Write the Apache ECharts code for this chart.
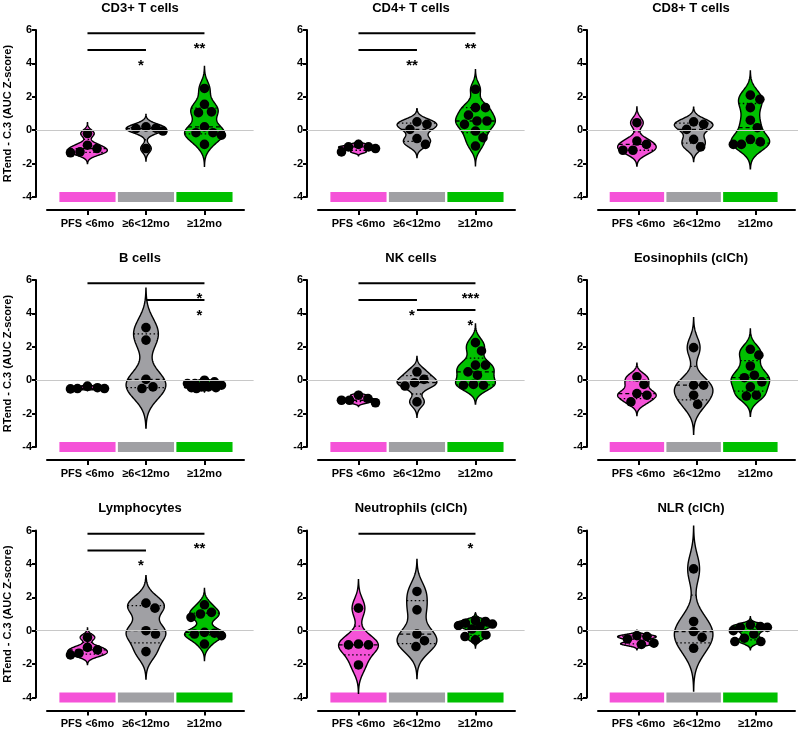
<!DOCTYPE html>
<html>
<head>
<meta charset="utf-8">
<script src="https://cdn.jsdelivr.net/npm/echarts@6/dist/echarts.min.js"></script>
<style>
  html, body { margin: 0; padding: 0; background: #fff; }
  #chart { width: 798px; height: 731px; }
</style>
</head>
<body>
<div id="chart"></div>
<script>
(function () {
  // groups and colours
  var groups = ['PFS <6mo', '≥6<12mo', '≥12mo'];
  var groupColors = ['#f552d8', '#a0a0a4', '#00c000'];
  var titles = ['CD3+ T cells', 'CD4+ T cells', 'CD8+ T cells', 'B cells', 'NK cells',
    'Eosinophils (clCh)', 'Lymphocytes', 'Neutrophils (clCh)', 'NLR (clCh)'];
  var yTicks = [-4, -2, 0, 2, 4, 6];
  var yName = 'RTend - C.3 (AUC Z-score)';

  // values per panel: [PFS <6mo, >=6<12mo, >=12mo]
  var cd3 = [[-0.2, -0.9, -1.1, -1.3, -1.35], [0.2, -0.05, 0.12, 0.1, -1.1],
    [2.5, 1.55, 1.1, 1.05, 0.2, -0.15, -0.15, -0.3, -0.85]];
  var cd4 = [[-0.85, -1.0, -1.0, -1.1, -1.3], [0.5, 0.35, 0.05, -0.5, -0.85],
    [2.45, 1.35, 1.35, 0.9, 0.55, 0.55, 0.35, -0.05, -0.45, -0.95]];
  var cd8 = [[0.45, -0.65, -0.85, -1.2, -1.2], [0.5, 0.35, 0.05, -0.55, -1.0],
    [2.1, 1.85, 1.35, 0.6, 0.15, -0.55, -0.7, -0.85, -0.85]];
  var bCells = [[-0.35, -0.45, -0.5, -0.5, -0.52], [3.15, 2.4, 0.05, -0.4, -0.5],
    [0.0, -0.1, -0.2, -0.2, -0.3, -0.4, -0.4, -0.45, -0.45, -0.5]];
  var nkCells = [[-0.9, -1.1, -1.2, -1.2, -1.35], [0.5, 0.05, -0.15, -0.35, -1.3],
    [2.25, 1.75, 0.9, 0.9, 0.5, 0.3, -0.25, -0.3, -0.3]];
  var eosinophils = [[0.2, -0.25, -0.8, -0.9, -1.3], [1.95, -0.3, -0.3, -0.9, -1.45],
    [1.85, 1.5, 0.85, 0.3, 0.15, -0.1, -0.4, -0.9, -0.95]];
  var lymphocytes = [[-0.4, -1.0, -1.15, -1.35, -1.45], [1.65, 1.35, 0.0, -0.2, -1.25],
    [1.55, 1.1, 1.0, 0.8, -0.1, -0.15, -0.2, -0.3, -0.8]];
  var neutrophils = [[1.35, -0.8, -0.85, -0.85, -2.05], [2.35, 1.25, -0.2, -0.6, -0.95],
    [0.6, 0.55, 0.45, 0.4, 0.3, 0.25, 0.1, -0.25, -0.35, -0.55]];
  var nlr = [[-0.3, -0.35, -0.5, -0.75, -0.82], [3.7, 0.55, -0.05, -0.4, -1.05],
    [0.35, 0.25, 0.2, 0.2, 0.0, -0.2, -0.45, -0.65, -0.65]];

  // significance: [from group, to group, stars, tier]
  var cd3Sig = [[1, 3, '**', 0], [1, 2, '*', 1]];
  var cd4Sig = [[1, 3, '**', 0], [1, 2, '**', 1]];
  var bSig = [[1, 3, '*', 0], [2, 3, '*', 1]];
  var nkSig = [[1, 3, '***', 0], [1, 2, '*', 1], [2, 3, '*', 2]];
  var lymphSig = [[1, 3, '**', 0], [1, 2, '*', 1]];
  var neutSig = [[1, 3, '*', 0]];

  var panels = [cd3, cd4, cd8, bCells, nkCells, eosinophils, lymphocytes, neutrophils, nlr];
  var panelSigs = [cd3Sig, cd4Sig, [], bSig, nkSig, [], lymphSig, neutSig, []];

  var font = 'Liberation Sans, Arial, sans-serif';
  var sigLevels = [5.8, 4.8, 4.2];
  var colLeft = [36, 307, 587];
  var rowTop = [30, 280, 530.5];
  var titleTop = [2, 252, 502];

  function quantile(s, p) {
    var pos = (s.length + 1) * p - 1;
    if (pos <= 0) return s[0];
    if (pos >= s.length - 1) return s[s.length - 1];
    var i = Math.floor(pos);
    return s[i] + (s[i + 1] - s[i]) * (pos - i);
  }

  // kernel density outline, normalised to its own peak
  function profile(vals) {
    var n = vals.length;
    var mean = vals.reduce(function (a, b) { return a + b; }, 0) / n;
    var sd = Math.sqrt(vals.reduce(function (a, b) { return a + (b - mean) * (b - mean); }, 0) / (n - 1));
    var h = Math.max(0.6 * 1.06 * sd * Math.pow(n, -0.2), 0.04);
    function raw(y) {
      var d = 0;
      vals.forEach(function (v) { var z = (y - v) / h; d += Math.exp(-0.5 * z * z); });
      return d;
    }
    var lo = vals[0] - 3 * h, hi = vals[n - 1] + 3 * h;
    var curve = [], peak = 0, steps = 120;
    for (var i = 0; i <= steps; i++) {
      var y = lo + (hi - lo) * i / steps;
      var d = raw(y);
      peak = Math.max(peak, d);
      curve.push([y, d]);
    }
    return {
      curve: curve.map(function (c) { return [c[0], c[1] / peak]; }),
      dens: function (y) { return raw(y) / peak; }
    };
  }

  // beeswarm offset in pixels, kept within +-17px (dots overlap when crowded)
  function swarmOffset(placed, py) {
    var D = 10, best = 0, bestGap = -1;
    for (var k = 0; k <= 68; k++) {
      var dx = (k % 2 ? 1 : -1) * Math.ceil(k / 2) * 0.5;
      var gap = placed.reduce(function (m, q) { return Math.min(m, Math.hypot(q[0] - dx, q[1] - py)); }, Infinity);
      if (gap >= D) return dx;
      if (gap > bestGap + 0.01) { bestGap = gap; best = dx; }
    }
    return best;
  }

  function makeViolin(p) {
    return function (params, api) {
      var gi = params.dataIndex, cx = gi + 1;
      var vals = panels[p][gi].slice().sort(function (a, b) { return a - b; });
      var prof = profile(vals);
      var halfMax = 0.34;
      var right = [], left = [];
      prof.curve.forEach(function (pt) {
        right.push(api.coord([cx + pt[1] * halfMax, pt[0]]));
        left.unshift(api.coord([cx - pt[1] * halfMax, pt[0]]));
      });
      var children = [];
      var b0 = api.coord([cx - 0.48, -3.7]), b1 = api.coord([cx + 0.48, -4.3]);
      children.push({ type: 'rect', shape: { x: b0[0], y: b0[1], width: b1[0] - b0[0], height: b1[1] - b0[1] },
        style: { fill: groupColors[gi] } });
      children.push({ type: 'polygon', shape: { points: right.concat(left) },
        style: { fill: groupColors[gi], stroke: '#000', lineWidth: 1.4 } });
      [0.25, 0.5, 0.75].forEach(function (qp) {
        var q = quantile(vals, qp);
        var w = prof.dens(q) * halfMax;
        var a = api.coord([cx - w, q]), b = api.coord([cx + w, q]);
        children.push({ type: 'line', shape: { x1: a[0], y1: a[1], x2: b[0], y2: b[1] },
          style: { stroke: '#000', lineWidth: 1.3, lineDash: qp === 0.5 ? [4, 3] : [1.5, 2.5] } });
      });
      var center = api.coord([cx, 0])[0];
      var placed = [];
      vals.slice().reverse().forEach(function (v) {
        var py = api.coord([cx, v])[1];
        var dx = swarmOffset(placed, py);
        placed.push([dx, py]);
        children.push({ type: 'circle', shape: { cx: center + dx, cy: py, r: 4.8 }, style: { fill: '#000' } });
      });
      return { type: 'group', children: children };
    };
  }

  function makeSig(p) {
    return function (params, api) {
      var s = panelSigs[p][params.dataIndex];
      var lvl = sigLevels[s[3]];
      var a = api.coord([s[0], lvl]), b = api.coord([s[1], lvl]);
      return { type: 'group', children: [
        { type: 'line', shape: { x1: a[0], y1: a[1], x2: b[0], y2: b[1] }, style: { stroke: '#000', lineWidth: 2 } },
        { type: 'text', x: b[0] - 5, y: b[1] + 8,
          style: { text: s[2], fill: '#000', font: 'bold 15px ' + font, align: 'center', verticalAlign: 'top' } }
      ] };
    };
  }

  var option = { backgroundColor: '#fff', animation: false, title: [], grid: [], xAxis: [], yAxis: [], series: [] };

  panels.forEach(function (vals, p) {
    var r = Math.floor(p / 3), c = p % 3;
    var gMain = 2 * p, gAxis = 2 * p + 1;
    option.title.push({ text: titles[p], left: colLeft[c] + 104, top: titleTop[r], textAlign: 'center', padding: 0,
      textStyle: { fontSize: 13, fontWeight: 'bold', color: '#000', fontFamily: font } });
    option.grid.push({ left: colLeft[c], top: rowTop[r], width: 217.6, height: 167 });
    option.grid.push({ left: colLeft[c] + 11, top: rowTop[r] + 179, width: 197, height: 1 });
    option.xAxis.push({ gridIndex: gMain, type: 'value', min: 0.12, max: 3.84, show: false });
    option.xAxis.push({ gridIndex: gAxis, type: 'value', min: 0.308, max: 3.676, position: 'bottom',
      axisLine: { show: true, onZero: false, lineStyle: { color: '#000', width: 2 } },
      axisTick: { show: true, customValues: [1, 2, 3], length: 5, lineStyle: { color: '#000', width: 2 } },
      axisLabel: { customValues: [1, 2, 3], margin: 8, color: '#000', fontWeight: 'bold', fontSize: 11, fontFamily: font,
        formatter: function (v) { return groups[Math.round(v) - 1]; } },
      splitLine: { show: false } });
    option.yAxis.push({ gridIndex: gMain, type: 'value', min: yTicks[0], max: yTicks[yTicks.length - 1], interval: 2,
      axisLine: { show: true, onZero: false, lineStyle: { color: '#000', width: 2 } },
      axisTick: { show: true, length: 4, lineStyle: { color: '#000', width: 2 } },
      axisLabel: { color: '#000', fontWeight: 'bold', fontSize: 11, margin: 4, fontFamily: font },
      splitLine: { show: false },
      name: c === 0 ? yName : '', nameLocation: 'middle', nameGap: 23,
      nameTextStyle: { color: '#000', fontWeight: 'bold', fontSize: 11, fontFamily: font } });
    option.yAxis.push({ gridIndex: gAxis, type: 'value', show: false });

    option.series.push({ type: 'scatter', xAxisIndex: gMain, yAxisIndex: gMain, data: [], silent: true, z: 1,
      markLine: { silent: true, symbol: 'none', label: { show: false }, animation: false,
        lineStyle: { color: '#c8c8c8', width: 1, type: 'solid' }, data: [{ yAxis: 0 }] } });
    option.series.push({ type: 'custom', xAxisIndex: gMain, yAxisIndex: gMain, z: 2, silent: true,
      data: groups.map(function (g, i) { return [i + 1, 0]; }), renderItem: makeViolin(p) });
    if (panelSigs[p].length) {
      option.series.push({ type: 'custom', xAxisIndex: gMain, yAxisIndex: gMain, z: 3, silent: true,
        data: panelSigs[p].map(function (s) { return [s[0], s[1]]; }), renderItem: makeSig(p) });
    }
  });

  var chart = echarts.init(document.getElementById('chart'), null, { renderer: 'canvas' });
  chart.setOption(option);
})();
</script>
</body>
</html>
